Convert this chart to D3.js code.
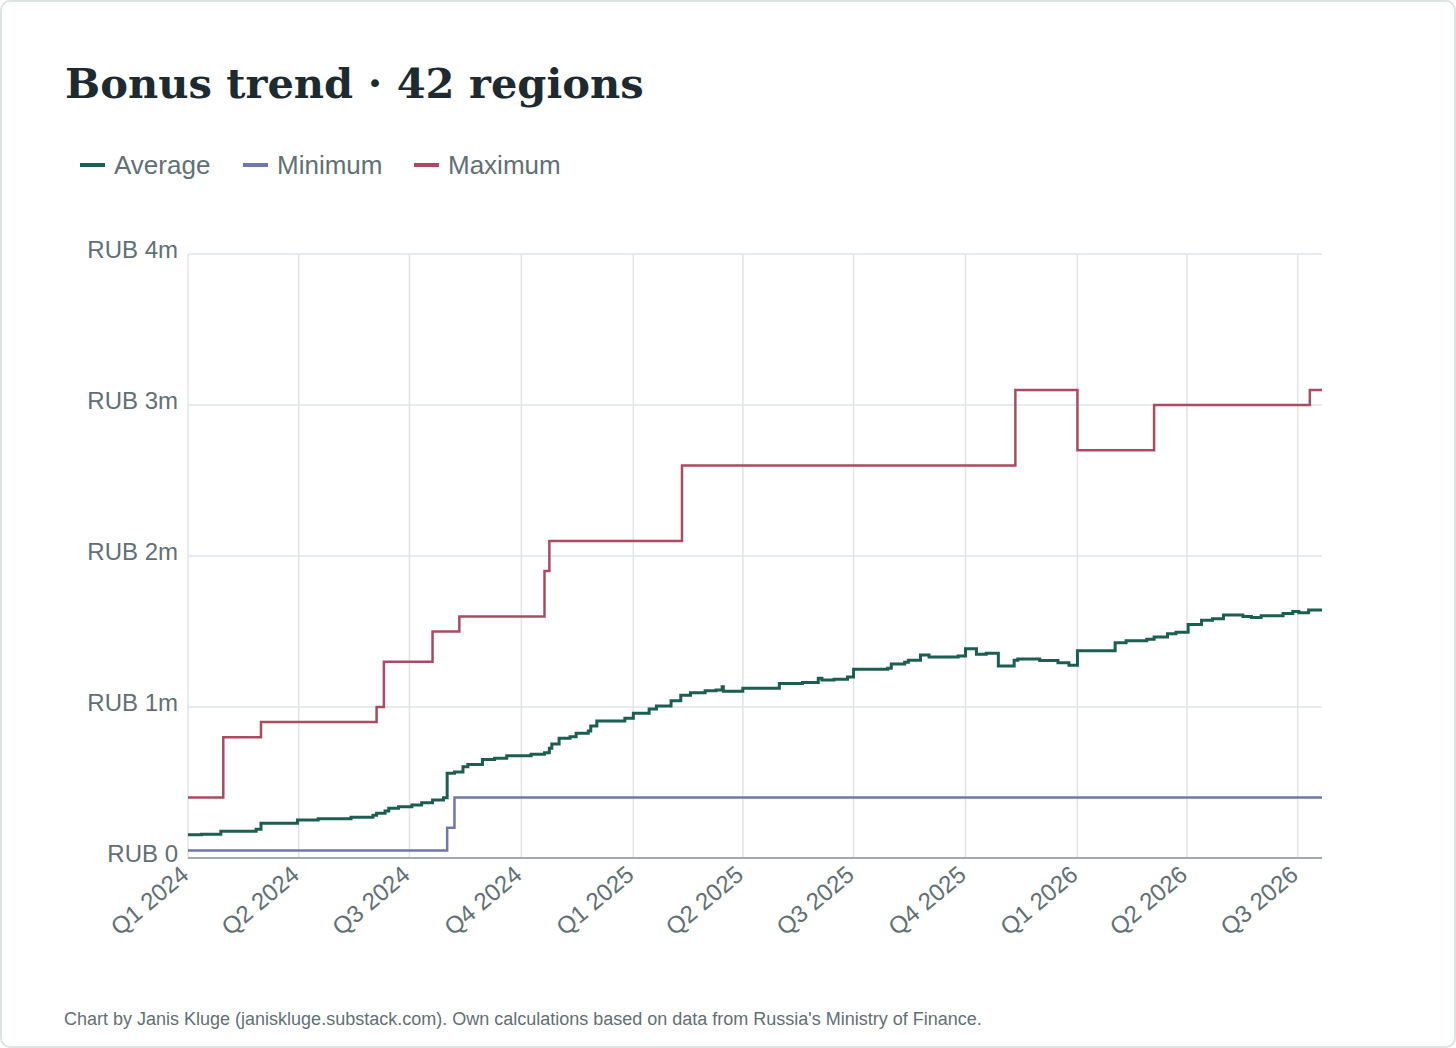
<!DOCTYPE html>
<html>
<head>
<meta charset="utf-8">
<script src="https://cdn.jsdelivr.net/npm/d3@7"></script>
<style>
html, body { margin: 0; padding: 0; background: #fff; }
svg { display: block; }
</style>
</head>
<body>
<svg id="chart" width="1456" height="1048"></svg>
<script>
// data (values in RUB millions)
const seriesNames = ['Average', 'Minimum', 'Maximum'];

const avgDates = [
  '2024-01-01', '2024-01-12', '2024-01-28', '2024-02-26', '2024-03-01', '2024-03-31',
  '2024-04-17', '2024-05-14', '2024-06-01', '2024-06-04', '2024-06-11', '2024-06-14',
  '2024-06-22', '2024-07-03', '2024-07-11', '2024-07-20', '2024-07-29', '2024-08-01',
  '2024-08-07', '2024-08-14', '2024-08-18', '2024-08-30', '2024-09-09', '2024-09-19',
  '2024-10-09', '2024-10-20', '2024-10-24', '2024-10-26', '2024-11-01', '2024-11-10',
  '2024-11-15', '2024-11-25', '2024-11-27', '2024-12-02', '2024-12-25', '2025-01-01',
  '2025-01-14', '2025-01-20', '2025-02-01', '2025-02-09', '2025-02-17', '2025-03-01',
  '2025-03-10', '2025-03-15', '2025-03-16', '2025-04-01', '2025-05-01', '2025-05-20',
  '2025-06-02', '2025-06-05', '2025-06-15', '2025-06-26', '2025-07-01', '2025-07-29',
  '2025-08-01', '2025-08-12', '2025-08-15', '2025-08-25', '2025-09-01', '2025-09-25',
  '2025-10-01', '2025-10-10', '2025-10-18', '2025-10-28', '2025-11-10', '2025-11-13',
  '2025-12-01', '2025-12-16', '2025-12-25', '2026-01-01', '2026-02-01', '2026-02-10',
  '2026-02-27', '2026-03-05', '2026-03-16', '2026-03-23', '2026-04-02', '2026-04-13',
  '2026-04-22', '2026-05-01', '2026-05-17', '2026-05-24', '2026-06-01', '2026-06-19',
  '2026-06-27', '2026-07-02', '2026-07-10'
];
const avgValues = [
  0.154, 0.158, 0.177, 0.19, 0.23, 0.252,
  0.26, 0.27, 0.283, 0.296, 0.311, 0.329,
  0.34, 0.351, 0.366, 0.384, 0.399, 0.561,
  0.57, 0.605, 0.62, 0.653, 0.66, 0.677,
  0.687, 0.697, 0.726, 0.755, 0.793, 0.803,
  0.826, 0.841, 0.874, 0.907, 0.925, 0.958,
  0.987, 1.007, 1.042, 1.077, 1.095, 1.108,
  1.113, 1.134, 1.104, 1.124, 1.155, 1.163,
  1.19, 1.178, 1.184, 1.199, 1.25, 1.257,
  1.284, 1.296, 1.31, 1.344, 1.331, 1.338,
  1.385, 1.35, 1.356, 1.272, 1.309, 1.318,
  1.308, 1.293, 1.277, 1.372, 1.426, 1.438,
  1.449, 1.464, 1.485, 1.495, 1.547, 1.574,
  1.585, 1.61, 1.6, 1.592, 1.605, 1.619,
  1.633, 1.625, 1.642
];

const minDates = ['2024-01-01', '2024-08-01', '2024-08-07'];
const minValues = [0.05, 0.2, 0.4];

const maxDates = [
  '2024-01-01', '2024-01-30', '2024-03-01', '2024-06-04', '2024-06-10', '2024-07-20',
  '2024-08-11', '2024-10-20', '2024-10-24', '2025-02-10', '2025-11-11', '2026-01-01',
  '2026-03-05', '2026-07-11'
];
const maxValues = [0.4, 0.8, 0.9, 1.0, 1.3, 1.5, 1.6, 1.9, 2.1, 2.6, 3.1, 2.7, 3.0, 3.1];

const endDate = '2026-07-21';

const yTicks = [0, 1, 2, 3, 4];
const yTickLabels = ['RUB 0', 'RUB 1m', 'RUB 2m', 'RUB 3m', 'RUB 4m'];

const xTickDates = [
  '2024-01-01', '2024-04-01', '2024-07-01', '2024-10-01', '2025-01-01', '2025-04-01',
  '2025-07-01', '2025-10-01', '2026-01-01', '2026-04-01', '2026-07-01'
];
const xTickLabels = [
  'Q1 2024', 'Q2 2024', 'Q3 2024', 'Q4 2024', 'Q1 2025', 'Q2 2025',
  'Q3 2025', 'Q4 2025', 'Q1 2026', 'Q2 2026', 'Q3 2026'
];

// layout
const plotLeft = 188, plotRight = 1322, plotTop = 254, plotBottom = 858;
const TEXT = '#617075';
const GRID = '#dfe4e7';
const COLORS = { Average: '#1b5e52', Minimum: '#7078ab', Maximum: '#aa4b62' };
const WIDTHS = { Average: 3, Minimum: 2.5, Maximum: 2.5 };
const SANS = '"Liberation Sans", Arial, sans-serif';

const parse = d3.utcParse('%Y-%m-%d');

// builds the points of one step series, carrying the last value to the end date
function toPoints(dates, values) {
  const pts = dates.map((d, i) => ({ date: parse(d), value: values[i] }));
  pts.push({ date: parse(endDate), value: values[values.length - 1] });
  return pts;
}

const series = [
  { name: 'Maximum', points: toPoints(maxDates, maxValues) },
  { name: 'Minimum', points: toPoints(minDates, minValues) },
  { name: 'Average', points: toPoints(avgDates, avgValues) }
];

const xScale = d3.scaleUtc()
  .domain([parse(xTickDates[0]), parse(endDate)])
  .range([plotLeft, plotRight]);

const yScale = d3.scaleLinear()
  .domain([0, 4])
  .range([plotBottom, plotTop]);

function render() {
  const svg = d3.select('#chart');
  svg.selectAll('*').remove();

  // card frame
  svg.append('rect')
    .attr('x', 1).attr('y', 1)
    .attr('width', 1454).attr('height', 1046)
    .attr('rx', 9)
    .attr('fill', '#fff')
    .attr('stroke', '#dde3e3')
    .attr('stroke-width', 2);

  // title
  svg.append('text')
    .attr('x', 65).attr('y', 98)
    .attr('font-family', '"DejaVu Serif", Georgia, serif')
    .attr('font-weight', 'bold')
    .attr('font-size', 41.6)
    .attr('fill', '#1d2b30')
    .text('Bonus trend · 42 regions');

  // legend
  const legendX = [80, 243, 414];
  const legend = svg.selectAll('g.legend')
    .data(seriesNames)
    .join('g')
    .attr('class', 'legend')
    .attr('transform', (d, i) => `translate(${legendX[i]},165)`);
  legend.append('line')
    .attr('x1', 0).attr('x2', 25)
    .attr('stroke', d => COLORS[d])
    .attr('stroke-width', 4);
  legend.append('text')
    .attr('x', 34)
    .attr('dy', '0.35em')
    .attr('font-family', SANS)
    .attr('font-size', 26)
    .attr('fill', TEXT)
    .text(d => d);

  // vertical gridlines
  svg.append('g')
    .selectAll('line')
    .data(xTickDates)
    .join('line')
    .attr('x1', d => xScale(parse(d)))
    .attr('x2', d => xScale(parse(d)))
    .attr('y1', plotTop)
    .attr('y2', plotBottom)
    .attr('stroke', GRID)
    .attr('stroke-width', 1.5);

  // horizontal gridlines
  svg.append('g')
    .selectAll('line')
    .data(yTicks.slice(1))
    .join('line')
    .attr('x1', plotLeft)
    .attr('x2', plotRight)
    .attr('y1', d => yScale(d))
    .attr('y2', d => yScale(d))
    .attr('stroke', GRID)
    .attr('stroke-width', 1.5);

  // baseline
  svg.append('line')
    .attr('x1', plotLeft).attr('x2', plotRight)
    .attr('y1', yScale(0)).attr('y2', yScale(0))
    .attr('stroke', '#a3a9ac')
    .attr('stroke-width', 2);

  // y labels
  svg.append('g')
    .selectAll('text')
    .data(yTicks)
    .join('text')
    .attr('x', 178)
    .attr('y', d => yScale(d) - 4)
    .attr('dy', '0.35em')
    .attr('text-anchor', 'end')
    .attr('font-family', SANS)
    .attr('font-size', 24)
    .attr('fill', TEXT)
    .text((d, i) => yTickLabels[i]);

  // x labels
  svg.append('g')
    .selectAll('text')
    .data(xTickDates)
    .join('text')
    .attr('transform', d => `translate(${xScale(parse(d)) - 9},864) rotate(-40)`)
    .attr('dy', '0.72em')
    .attr('text-anchor', 'end')
    .attr('font-family', SANS)
    .attr('font-size', 24)
    .attr('fill', TEXT)
    .text((d, i) => xTickLabels[i]);

  // step lines
  const line = d3.line()
    .curve(d3.curveStepAfter)
    .x(d => xScale(d.date))
    .y(d => yScale(d.value));

  svg.append('g')
    .selectAll('path')
    .data(series)
    .join('path')
    .attr('d', d => line(d.points))
    .attr('fill', 'none')
    .attr('stroke', d => COLORS[d.name])
    .attr('stroke-width', d => WIDTHS[d.name])
    .attr('stroke-linejoin', 'miter');

  // footer
  svg.append('text')
    .attr('x', 64).attr('y', 1025)
    .attr('font-family', SANS)
    .attr('font-size', 18)
    .attr('fill', TEXT)
    .text("Chart by Janis Kluge (janiskluge.substack.com). Own calculations based on data from Russia's Ministry of Finance.");
}

render();
</script>
</body>
</html>
